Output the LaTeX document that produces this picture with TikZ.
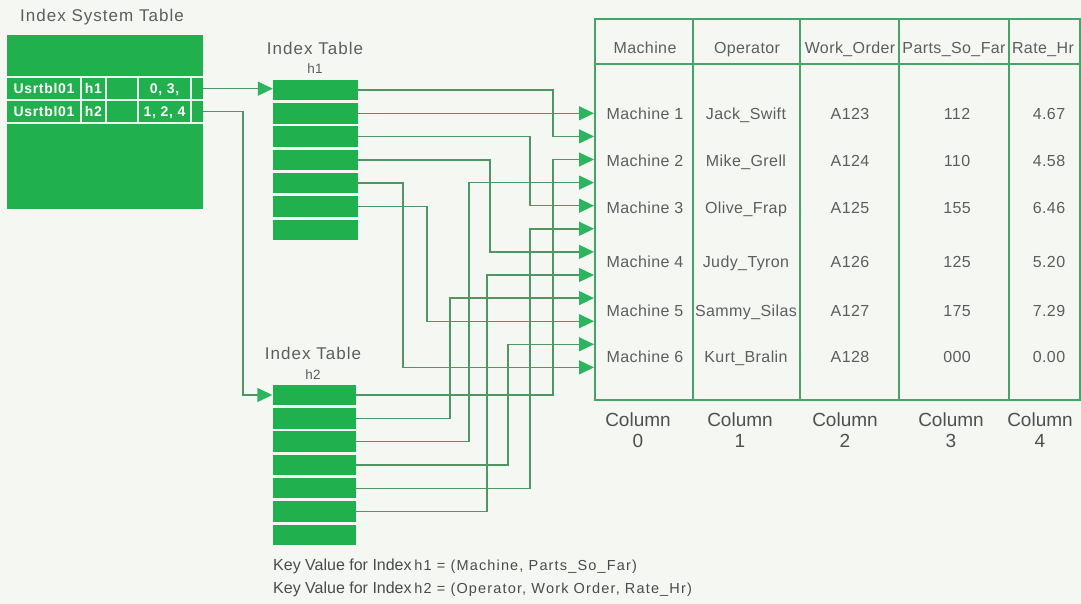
\documentclass[tikz,border=0pt]{standalone}
\usepackage{fontspec}
\setmainfont{Liberation Sans}
\newfontfamily\wideA[LetterSpace=6]{Liberation Sans}
\newfontfamily\wideB[LetterSpace=2.5]{Liberation Sans}
\newfontfamily\wideC[LetterSpace=5]{Liberation Sans}
\newfontfamily\wideD[LetterSpace=8]{Liberation Sans}
\usetikzlibrary{arrows.meta}
\definecolor{bgc}{RGB}{244,247,242}
\definecolor{gfill}{RGB}{32,176,78}
\definecolor{connc}{RGB}{80,150,100}
\definecolor{tline}{RGB}{70,165,100}
\definecolor{txtg}{RGB}{90,95,95}
\definecolor{arrg}{RGB}{45,180,95}
\tikzset{
  idxrow/.style={fill=gfill, draw=none, minimum width=85pt, minimum height=20.5pt, inner sep=0pt},
  conn/.style={draw=connc, line width=1.4pt, -{Triangle[length=15pt,width=14pt,color=arrg]}},
  title/.style={text=txtg, font=\wideA\fontsize{17}{20}\selectfont, inner sep=0pt},
  sub/.style={text=txtg, font=\fontsize{13.5}{16}\selectfont, inner sep=0pt},
  cell/.style={text=txtg, font=\wideB\fontsize{16}{19}\selectfont, inner sep=0pt, text height=13pt, text depth=1.6pt},
  coll/.style={text=txtg!85!black, font=\fontsize{19}{22}\selectfont, align=center, inner sep=0pt},
  sys/.style={text=white, font=\wideC\bfseries\fontsize{14}{16}\selectfont, inner sep=0pt, text height=11pt, text depth=1pt},
  wline/.style={draw=white!90!gfill, line width=1.2pt},
  keyt/.style={text=txtg!80!black, inner sep=0pt, anchor=west}
}
\begin{document}
\begin{tikzpicture}[x=1pt,y=-1pt]
\fill[bgc] (0,0) rectangle (1081,604);
\useasboundingbox (0,0) rectangle (1081,604);

% Index System Table
\node[title, anchor=west] (systitle) at (20,17) {Index System Table};
\node[fill=gfill, minimum width=196pt, minimum height=174pt, inner sep=0pt, anchor=north west] (sys) at (7,35) {};
\node[minimum width=196pt, minimum height=23pt, inner sep=0pt, anchor=north west] (sysr1) at (7,77) {};
\node[minimum width=196pt, minimum height=23pt, inner sep=0pt, anchor=north west] (sysr2) at (7,100) {};
\draw[wline] (7,77) -- (203,77) (7,100) -- (203,100) (7,123) -- (203,123);
\foreach \xx in {81,106,138,191} \draw[wline] (\xx,77) -- (\xx,123);
\node[sys] (u1) at (44,88.5) {Usrtbl01};
\node[sys] (k1) at (93.5,88.5) {h1};
\node[sys] (v1) at (164.5,88.5) {0, 3,};
\node[sys] (u2) at (44,111.5) {Usrtbl01};
\node[sys] (k2) at (93.5,111.5) {h2};
\node[sys] (v2) at (164.5,111.5) {1, 2, 4};

% Index Table h1
\node[title] (it1) at (315,48) {Index Table};
\node[sub] (h1lab) at (315,69) {h1};
\foreach \i in {1,...,7} \node[idxrow] (h1r\i) at (315.5,{90+(\i-1)*23.3}) {};

% Index Table h2
\node[title] (it2) at (313,353) {Index Table};
\node[sub] (h2lab) at (313,375) {h2};
\foreach \i in {1,...,7} \node[idxrow, minimum width=83pt] (h2r\i) at (314,{395+(\i-1)*23.3}) {};

% Main table
\node[draw=tline, line width=1.6pt, minimum width=485pt, minimum height=381pt, inner sep=0pt, anchor=north west] (tab) at (594,18) {};
\draw[tline, line width=1.6pt] (594,64) -- (1079,64);
\foreach \xx in {693,800,899,1009} \draw[tline, line width=1.6pt] (\xx,18) -- (\xx,399);

\node[cell] (hd0) at (645,48) {Machine};
\node[cell] (hd1) at (747,48) {Operator};
\node[cell] (hd2) at (850,48) {Work\_Order};
\node[cell] (hd3) at (954,48) {Parts\_So\_Far};
\node[cell] (hd4) at (1043,48) {Rate\_Hr};

\foreach \yy/\a/\b/\c/\d/\e [count=\r] in {
  114/Machine 1/Jack\_Swift/A123/112/4.67,
  161/Machine 2/Mike\_Grell/A124/110/4.58,
  208/Machine 3/Olive\_Frap/A125/155/6.46,
  262/Machine 4/Judy\_Tyron/A126/125/5.20,
  311/Machine 5/Sammy\_Silas/A127/175/7.29,
  357/Machine 6/Kurt\_Bralin/A128/000/0.00}{
  \node[cell] (c0r\r) at (645,\yy) {\a};
  \node[cell] (c1r\r) at (746,\yy) {\b};
  \node[cell] (c2r\r) at (850,\yy) {\c};
  \node[cell] (c3r\r) at (957,\yy) {\d};
  \node[cell] (c4r\r) at (1049,\yy) {\e};
}

\node[coll] (col0) at (638,430) {Column\\[-1pt]0};
\node[coll] (col1) at (740,430) {Column\\[-1pt]1};
\node[coll] (col2) at (845,430) {Column\\[-1pt]2};
\node[coll] (col3) at (951,430) {Column\\[-1pt]3};
\node[coll] (col4) at (1040,430) {Column\\[-1pt]4};

% arrow targets
\foreach \k in {1,...,12} \coordinate (t\k) at (594,{113.3+(\k-1)*23.1});
% lanes
\coordinate (lS) at (243,0);
\coordinate (lA) at (553,0);
\coordinate (lB) at (530,0);
\coordinate (lC) at (490,0);
\coordinate (lD) at (403,0);
\coordinate (lE) at (427,0);
\coordinate (lF) at (450,0);
\coordinate (lG) at (469,0);
\coordinate (lH) at (508,0);
\coordinate (lI) at (487,0);

% system table to index tables
\draw[conn] (sysr1.east) -- (sysr1.east -| h1r1.west);
\draw[conn] (sysr2.east) -| (lS |- h2r1.west) -- (h2r1.west);

% h1 connectors
\draw[conn] (h1r1.east) -| (lA |- t2) -- (t2);
\draw[conn] (h1r2.east) -- (t1);
\draw[conn] (h1r3.east) -| (lB |- t5) -- (t5);
\draw[conn] (h1r4.east) -| (lC |- t7) -- (t7);
\draw[conn] (h1r5.east) -| (lD |- t12) -- (t12);
\draw[conn] (h1r6.east) -| (lE |- t10) -- (t10);

% h2 connectors
\draw[conn] (h2r1.east) -| (lA |- t3) -- (t3);
\draw[conn] (h2r2.east) -| (lF |- t9) -- (t9);
\draw[conn] (h2r3.east) -| (lG |- t4) -- (t4);
\draw[conn] (h2r4.east) -| (lH |- t11) -- (t11);
\draw[conn] (h2r5.east) -| (lB |- t6) -- (t6);
\draw[conn] (h2r6.east) -| (lI |- t8) -- (t8);

% key values
\node[keyt] (key1) at (273,566) {{\fontsize{16}{19}\selectfont Key Value for Index} {\wideD\fontsize{14.5}{17}\selectfont h1 = (Machine, Parts\_So\_Far)}};
\node[keyt] (key2) at (273,589) {{\fontsize{16}{19}\selectfont Key Value for Index} {\wideD\fontsize{14.5}{17}\selectfont h2 = (Operator, Work Order, Rate\_Hr)}};
\end{tikzpicture}
\end{document}
